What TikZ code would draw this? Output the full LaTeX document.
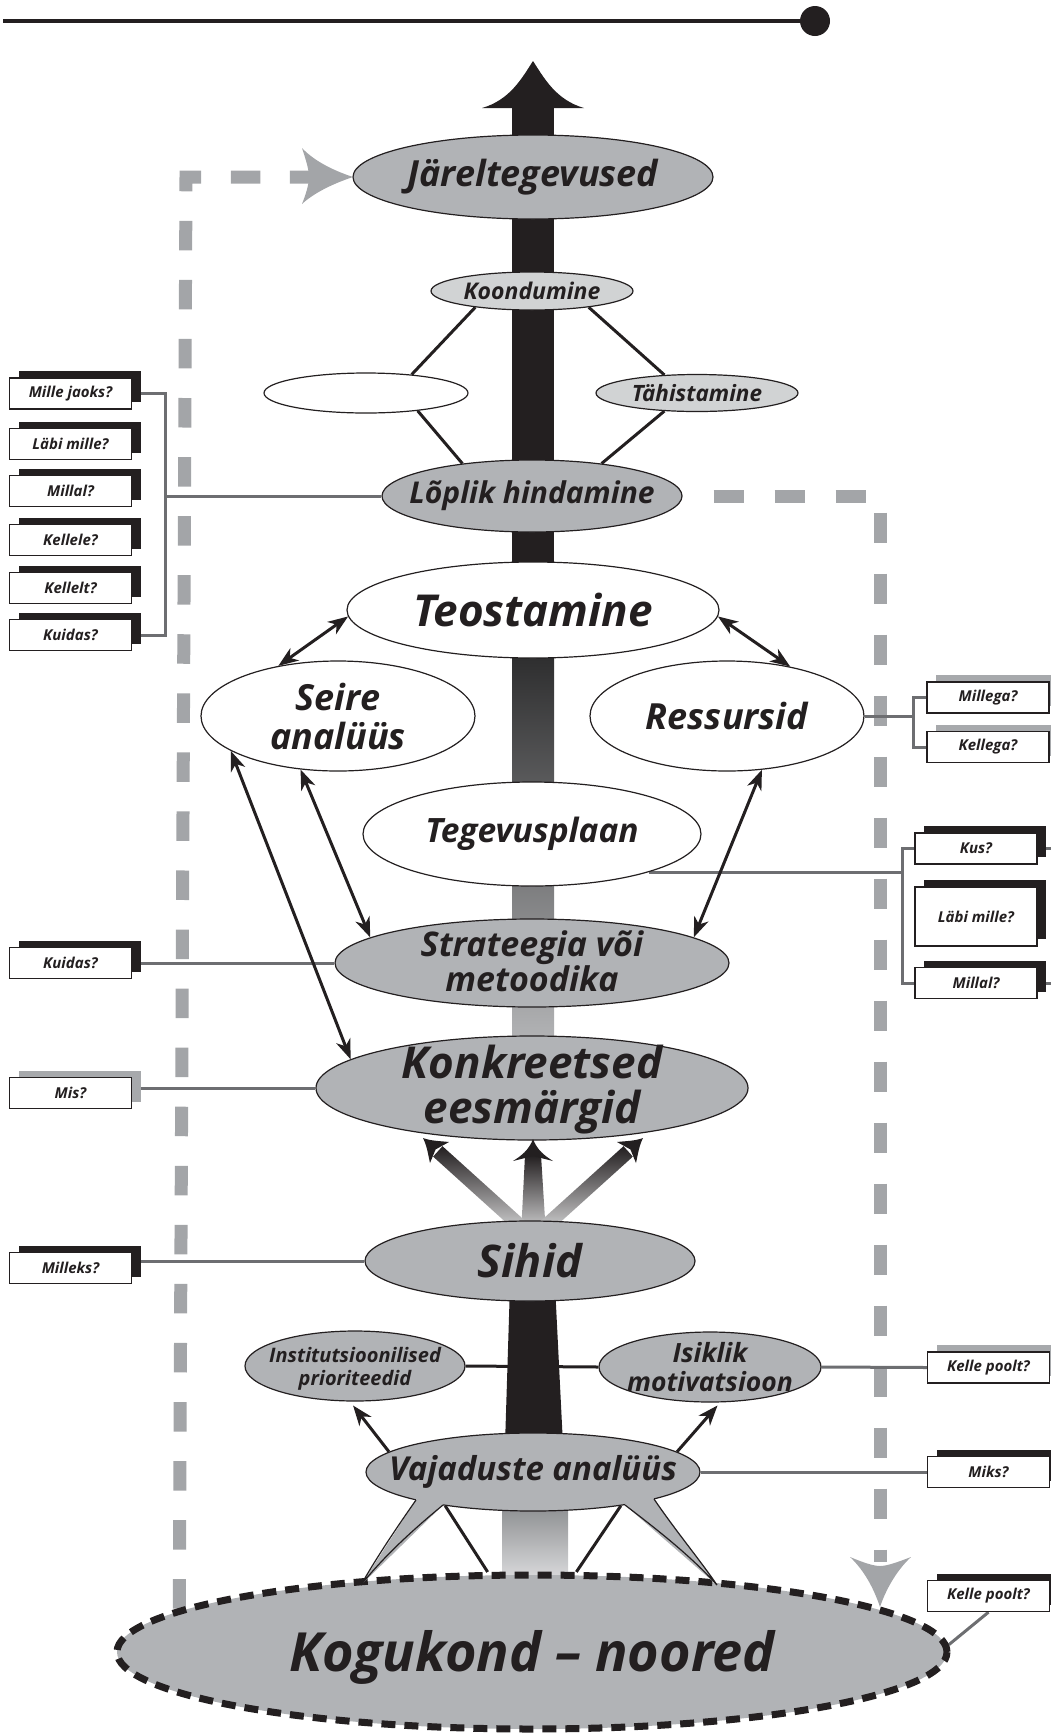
\documentclass[tikz,border=0pt]{standalone}
\usepackage{fontspec}
\setmainfont{Open Sans}
\usetikzlibrary{shapes.geometric,arrows.meta,shadows,backgrounds}
\definecolor{ink}{RGB}{35,31,32}
\definecolor{egrey}{RGB}{177,179,182}
\definecolor{lgrey}{RGB}{209,211,212}
\definecolor{dgrey}{RGB}{163,165,168}
\definecolor{cgrey}{RGB}{109,110,113}
\definecolor{sgrey}{RGB}{167,169,172}
\definecolor{shTop}{RGB}{42,42,43}
\definecolor{shBot}{RGB}{180,181,183}
\definecolor{tkTop}{RGB}{130,132,135}
\definecolor{tkBot}{RGB}{235,235,236}
\definecolor{arBot}{RGB}{215,215,216}
\tikzset{
  ell/.style={ellipse, draw=ink, line width=1.2pt, inner sep=0pt},
  gell/.style={ell, fill=egrey},
  well/.style={ell, fill=white},
  lell/.style={ell, fill=lgrey},
  lbl/.style 2 args={text=ink, align=center, inner sep=0pt, font=\bfseries\itshape\fontsize{#1}{#2}\selectfont},
  qbox/.style={rectangle, draw=ink, fill=white, line width=1.3pt, minimum width=122pt, minimum height=31pt, inner sep=0pt, text=ink, font=\bfseries\itshape\fontsize{15}{17}\selectfont},
  bsh/.style={general shadow={fill=ink, shadow xshift=9pt, shadow yshift=7pt}},
  gsh/.style={general shadow={fill=sgrey, shadow xshift=9pt, shadow yshift=7pt}},
  conn/.style={draw=cgrey, line width=3pt},
  blk/.style={draw=ink, line width=3pt},
  dbl/.style={blk, {Stealth[length=20pt,width=15pt,inset=6pt]}-{Stealth[length=20pt,width=15pt,inset=6pt]}},
  one/.style={blk, -{Stealth[length=20pt,width=15pt,inset=6pt]}},
  dgl/.style={draw=dgrey, line width=13pt, line join=miter}
}
\begin{document}
\begin{tikzpicture}[x=1pt,y=-1pt]
\useasboundingbox (0,0) rectangle (1051,1733);

% top line
\node[circle, fill=ink, minimum size=30pt, inner sep=0pt] (dot) at (815,21) {};
\coordinate (lstart) at (3,21);
\draw[ink, line width=3.5pt] (lstart) -- (dot);

% ellipses
\node[gell, minimum width=360pt, minimum height=84pt] (Jarel) at (533,177) {};
\node[lbl={36}{40}] (JarelT) at (Jarel) {Järeltegevused};
\node[lell, minimum width=202pt, minimum height=38pt] (Koond) at (532,291) {};
\node[lbl={23}{26}] (KoondT) at (Koond) {Koondumine};
\node[well, minimum width=204pt, minimum height=40pt] (Empty) at (366,393) {};
\node[lell, minimum width=202pt, minimum height=37pt] (Tahist) at (697,393) {};
\node[lbl={22.5}{26}] (TahistT) at (Tahist) {Tähistamine};
\node[gell, minimum width=300pt, minimum height=72pt] (Loplik) at (532,496) {};
\node[lbl={30}{34}] (LoplikT) at (Loplik) {Lõplik hindamine};
\node[well, minimum width=372pt, minimum height=96pt] (Teost) at (533,610) {};
\node[lbl={44}{50}] (TeostT) at (Teost) {Teostamine};
\node[well, minimum width=274pt, minimum height=110pt] (Seire) at (338,716) {};
\node[lbl={36}{39}] (SeireT) at (Seire) {Seire\\analüüs};
\node[well, minimum width=274pt, minimum height=110pt] (Ress) at (727,716) {};
\node[lbl={36}{40}] (RessT) at (Ress) {Ressursid};
\node[well, minimum width=338pt, minimum height=104pt] (Tegev) at (532,834) {};
\node[lbl={33.5}{38}] (TegevT) at (Tegev) {Tegevusplaan};
\node[gell, minimum width=394pt, minimum height=88pt] (Strat) at (532,963) {};
\node[lbl={34}{35}] (StratT) at ([yshift=2pt]Strat.center) {Strateegia või\\metoodika};
\node[gell, minimum width=432pt, minimum height=104pt] (Konkr) at (532,1088) {};
\node[lbl={44}{45}] (KonkrT) at ([yshift=-2pt]Konkr.center) {Konkreetsed\\eesmärgid};
\node[gell, minimum width=330pt, minimum height=80pt] (Sihid) at (530,1261) {};
\node[lbl={45}{50}] (SihidT) at (Sihid) {Sihid};
\node[gell, minimum width=220pt, minimum height=70pt] (Inst) at (355,1366) {};
\node[lbl={20}{23}] (InstT) at ([yshift=-3pt]Inst.center) {Institutsioonilised\\prioriteedid};
\node[gell, minimum width=222pt, minimum height=70pt] (Isik) at (710,1367) {};
\node[lbl={26.5}{29}] (IsikT) at (Isik) {Isiklik\\motivatsioon};
\node[gell, minimum width=334pt, minimum height=78pt] (Vaj) at (533,1472) {};
\node[ell, fill=egrey, line width=7pt, dash pattern=on 14pt off 9pt, minimum width=830pt, minimum height=154pt] (Kogu) at (532,1652) {};
\node[lbl={54}{60}] (KoguT) at ([yshift=-5pt]Kogu.center) {Kogukond – noored};

% question boxes left
\node[qbox,bsh] (qMJ) at (70.5,393.5) {Mille jaoks?};
\node[qbox,bsh] (qLM) at (70.5,444) {Läbi mille?};
\node[qbox,bsh] (qMi) at (70.5,491) {Millal?};
\node[qbox,bsh] (qKe) at (70.5,540) {Kellele?};
\node[qbox,bsh] (qKt) at (70.5,588) {Kellelt?};
\node[qbox,bsh] (qKu) at (70.5,635) {Kuidas?};
\node[qbox,bsh] (qKu2) at (70.5,963) {Kuidas?};
\node[qbox,gsh] (qMis) at (70.5,1093) {Mis?};
\node[qbox,bsh] (qMil) at (70.5,1268) {Milleks?};
% question boxes right
\node[qbox,gsh] (rMg) at (988,697.5) {Millega?};
\node[qbox,gsh] (rKg) at (988,747) {Kellega?};
\node[qbox,bsh] (rKus) at (976,848.5) {Kus?};
\node[qbox,bsh,minimum height=59pt] (rLM) at (976,916.5) {Läbi mille?};
\node[qbox,bsh] (rMil) at (976,983) {Millal?};
\node[qbox,gsh] (rKp1) at (988.5,1367.5) {Kelle poolt?};
\node[qbox,bsh] (rMk) at (988.5,1472) {Miks?};
\node[qbox,bsh] (rKp2) at (988.5,1596) {Kelle poolt?};

\begin{pgfonlayer}{background}
  \draw[blk] (Inst.east) -- (Isik.west);
  % dashed grey feedback paths
  \coordinate (dl1) at (186,177);
  \coordinate (jarArr) at (309,177);
  \draw[dgl, dash pattern=on 29.5pt off 29.56pt] (Kogu.173) -- (dl1) -- (jarArr);
  \coordinate (dr1) at (880,496);
  \coordinate (drEnd) at (880,1562);
  \draw[dgl, dash pattern=on 30pt off 31pt, dash phase=30pt] (Loplik.east) -- (dr1) -- (drEnd);
  % grey connectors
  \coordinate (bL1) at (165,393.5);
  \coordinate (bL2) at (165,635);
  \coordinate (bLj) at (165,496);
  \draw[conn] (qMJ.east) -- (bL1) -- (bL2) -- (qKu.east);
  \draw[conn] (bLj) -- (Loplik.west);
  \draw[conn] (Strat.west) -- (Strat.west -| qKu2.east);
  \draw[conn] (Konkr.west) -- (Konkr.west -| qMis.east);
  \draw[conn] (Sihid.west) -- (Sihid.west -| qMil.east);
  \coordinate (bR1) at (913,697.5);
  \coordinate (bR2) at (913,747);
  \coordinate (bRj) at (913,716);
  \draw[conn] (rMg.west) -- (bR1) -- (bR2) -- (rKg.west);
  \draw[conn] (Ress.east) -- (bRj);
  \coordinate (bT1) at (902,848.5);
  \coordinate (bT2) at (902,983);
  \draw[conn] (rKus.west) -- (bT1) -- (bT2) -- (rMil.west);
  \draw[conn] (Tegev.342) -- (Tegev.342 -| bT1);
  \coordinate (eK) at (1051,848.5);
  \coordinate (eM) at (1051,983);
  \draw[conn] (rKus.east) -- (eK);
  \draw[conn] (rMil.east) -- (eM);
  \draw[conn] (Isik.east) -- (rKp1.west);
  \draw[conn] (Vaj.east) -- (rMk.west);
  \draw[conn] (rKp2.south) -- (Kogu.1);
  % central shaft
  \fill[ink] (512,106) rectangle (554,650);
  \fill[ink] (533,61) .. controls (544,78) and (556,100) .. (584,108) -- (482,108) .. controls (510,100) and (522,78) .. (533,61) -- cycle;
  \shade[top color=shTop, bottom color=shBot] (512,645) rectangle (554,1045);
  \fill[ink] (510,1285) -- (555,1285) -- (563,1445) -- (505,1445) -- cycle;
  \shade[top color=tkTop, bottom color=tkBot] (502,1495) rectangle (568,1595);
  % Sihid arrows shafts
  \shade[top color=ink, bottom color=arBot] (521,1235) -- (546,1235) -- (541,1155) -- (525,1155) -- cycle;
  \shade[top color=ink, bottom color=arBot] (518.7,1233.9) -- (528.1,1223.5) -- (442.5,1146.2) -- (433.1,1156.6) -- cycle;
  \shade[top color=ink, bottom color=arBot] (547.3,1233.9) -- (537.9,1223.5) -- (623.5,1146.2) -- (632.9,1156.6) -- cycle;
  % diamond lines
  \draw[blk] (Koond.196) -- (Empty.22);
  \draw[blk] (Empty.341) -- (Loplik.155);
  \draw[blk] (Koond.344) -- (Tahist.151);
  \draw[blk] (Tahist.209) -- (Loplik.25);
\end{pgfonlayer}

% grey arrowheads of the dashed paths
\fill[dgrey] (353,177) .. controls (338,172) and (316,163) .. (302,148) .. controls (306,160) and (309,170) .. (309,177) .. controls (309,184) and (306,194) .. (302,204) .. controls (316,191) and (338,182) .. (353,177) -- cycle;
\fill[dgrey] (880,1607) .. controls (875,1592) and (866,1572) .. (850,1557) .. controls (862,1562) and (873,1566) .. (880,1566) .. controls (887,1566) and (898,1562) .. (911,1557) .. controls (895,1572) and (885,1592) .. (880,1607) -- cycle;

% Sihid arrow heads (filled, concave)
\fill[ink] (533,1139) .. controls (537,1150) and (545,1156) .. (553,1161) -- (533,1156) -- (513,1161) .. controls (521,1156) and (529,1150) .. (533,1139) -- cycle;
\fill[ink] (423,1138) .. controls (431,1141) and (440,1141) .. (449,1142) -- (435.6,1149.4) -- (430,1163) .. controls (428,1154) and (427,1146) .. (423,1138) -- cycle;
\fill[ink] (643,1138) .. controls (635,1141) and (626,1141) .. (617,1142) -- (630.4,1149.4) -- (636,1163) .. controls (638,1154) and (639,1146) .. (643,1138) -- cycle;

% Vajaduste spikes
\fill[egrey] (416,1500) -- (361,1585) -- (443,1505) -- (441,1497) -- (418,1493) -- cycle;
\draw[ink, line width=1.2pt] (416,1500) .. controls (395,1530) and (375,1560) .. (361,1585) .. controls (385,1555) and (415,1528) .. (443,1505);
\fill[egrey] (625,1505) -- (717,1585) -- (654,1499) -- (651,1492) -- (627,1497) -- cycle;
\draw[ink, line width=1.2pt] (625,1505) .. controls (655,1528) and (690,1555) .. (717,1585) .. controls (700,1560) and (675,1530) .. (654,1499);
\node[lbl={33}{36}] (VajT) at (Vaj) {Vajaduste analüüs};
\draw[blk] (Vaj.201) -- (Kogu.119);
\draw[blk] (Vaj.339) -- (Kogu.61);

% double arrows
\draw[dbl] (Teost.182) -- (Seire.140);
\draw[dbl] (Teost.358) -- (Ress.38);
\draw[dbl] (Seire.235) -- (Strat.171);
\draw[dbl] (Seire.198) -- (Konkr.171);
\draw[dbl] (Ress.303) -- (Strat.9);
\draw[one, shorten >=5pt] (Vaj.172) -- (Inst.262);
\draw[one, shorten >=4pt] (Vaj.8) -- (Isik.286);
\end{tikzpicture}
\end{document}
